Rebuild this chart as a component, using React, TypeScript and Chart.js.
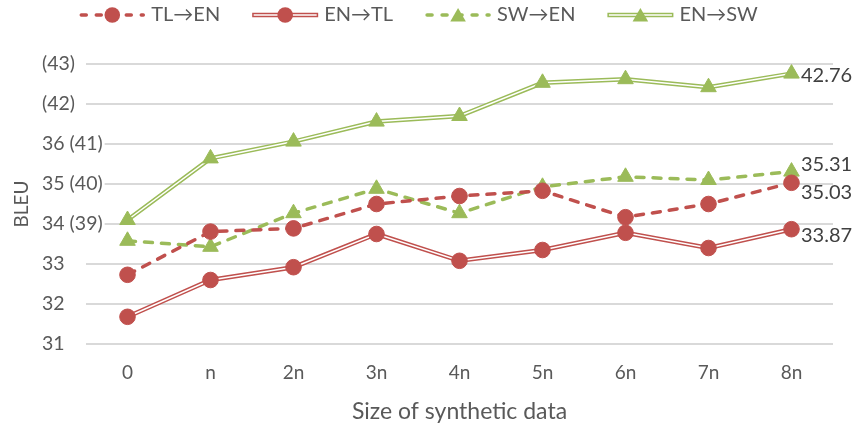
import React, { useEffect, useRef } from 'react';
import { Chart, registerables } from 'chart.js';

Chart.register(...registerables);

// ---------- data ----------
const categories = ['0', 'n', '2n', '3n', '4n', '5n', '6n', '7n', '8n'];
const seriesLabels = ['TL→EN', 'EN→TL', 'SW→EN', 'EN→SW'];
const tlEn = [32.73, 33.81, 33.89, 34.5, 34.7, 34.83, 34.17, 34.5, 35.03];
const enTl = [31.68, 32.6, 32.92, 33.75, 33.08, 33.35, 33.78, 33.4, 33.87];
const swEn = [33.58, 33.43, 34.27, 34.88, 34.27, 34.93, 35.18, 35.1, 35.31];
const enSw = [39.1, 40.64, 41.06, 41.56, 41.7, 42.53, 42.62, 42.42, 42.76];
const EN_SW_SHIFT = 5; // EN→SW is read on the bracketed scale
const yTickValues = [31, 32, 33, 34, 35, 36, 37, 38];
const yTickLabels = ['31', '32', '33', '34 (39)', '35 (40)', '36 (41)', '(42)', '(43)'];
const xTitle = 'Size of synthetic data';
const yTitle = 'BLEU';

// ---------- style ----------
const FONT = 'Lato, "Open Sans", sans-serif';
const RED = '#C0504D';
const GREEN = '#9BBB59';
const TEXT = '#595959';
const LABEL_TEXT = '#404040';
const DASH = [8, 9];

type SeriesStyle = {
  label: string;
  values: number[];
  shift: number;
  color: string;
  dashed: boolean;
  point: 'circle' | 'triangle';
  radius: number;
  labelDy: number;
  markerIndex?: number;
};

const seriesStyles: SeriesStyle[] = [
  { label: seriesLabels[0], values: tlEn, shift: 0, color: RED, dashed: true, point: 'circle', radius: 7.8, labelDy: 10 },
  { label: seriesLabels[1], values: enTl, shift: 0, color: RED, dashed: false, point: 'circle', radius: 7.8, labelDy: 6.5 },
  { label: seriesLabels[2], values: swEn, shift: 0, color: GREEN, dashed: true, point: 'triangle', radius: 9, labelDy: -7.5 },
  { label: seriesLabels[3], values: enSw, shift: EN_SW_SHIFT, color: GREEN, dashed: false, point: 'triangle', radius: 9, labelDy: 1.7 },
];

function buildDatasets() {
  const ds: any[] = [];
  seriesStyles.forEach((s) => {
    const data = s.values.map((v) => v - s.shift);
    const markerProps = {
      pointStyle: s.point,
      pointRadius: s.radius,
      pointBackgroundColor: s.color,
      pointBorderColor: s.color,
      pointBorderWidth: 1,
    };
    if (s.dashed) {
      s.markerIndex = ds.length;
      ds.push({
        label: s.label,
        data,
        borderColor: s.color,
        borderWidth: 3.5,
        borderDash: DASH,
        borderCapStyle: 'round',
        tension: 0,
        order: 1,
        ...markerProps,
      });
    } else {
      ds.push({ label: s.label + ' outer', data, borderColor: s.color, borderWidth: 4.5, pointRadius: 0, tension: 0, order: 6 });
      ds.push({ label: s.label + ' inner', data, borderColor: '#ffffff', borderWidth: 1.5, pointRadius: 0, tension: 0, order: 5 });
      s.markerIndex = ds.length;
      ds.push({ label: s.label, data, showLine: false, order: 0, ...markerProps });
    }
  });
  return ds;
}

function drawMarker(ctx: CanvasRenderingContext2D, kind: string, x: number, y: number, r: number, color: string) {
  ctx.save();
  ctx.fillStyle = color;
  ctx.beginPath();
  if (kind === 'circle') {
    ctx.arc(x, y, r, 0, Math.PI * 2);
  } else {
    let a = 0;
    ctx.moveTo(x + Math.sin(a) * r, y - Math.cos(a) * r);
    a += (2 * Math.PI) / 3;
    ctx.lineTo(x + Math.sin(a) * r, y - Math.cos(a) * r);
    a += (2 * Math.PI) / 3;
    ctx.lineTo(x + Math.sin(a) * r, y - Math.cos(a) * r);
    ctx.closePath();
  }
  ctx.fill();
  ctx.restore();
}

const LEG_CENTER_X = 418.5;
const LEG_Y = 15;
const LEG_SAMPLE = 66;
const LEG_GAP = 6;
const LEG_SPACING = 32;

const decorPlugin = {
  id: 'decor',
  afterDatasetsDraw(chart: any) {
    const ctx: CanvasRenderingContext2D = chart.ctx;
    ctx.save();
    ctx.font = `20px ${FONT}`;
    ctx.fillStyle = LABEL_TEXT;
    ctx.textAlign = 'left';
    ctx.textBaseline = 'middle';
    seriesStyles.forEach((s) => {
      const meta = chart.getDatasetMeta(s.markerIndex);
      const pt = meta.data[meta.data.length - 1];
      const v = s.values[s.values.length - 1];
      ctx.fillText(v.toFixed(2), pt.x + 9.5, pt.y + s.labelDy);
    });
    ctx.restore();
  },
  afterDraw(chart: any) {
    const ctx: CanvasRenderingContext2D = chart.ctx;
    const area = chart.chartArea;
    // y axis title
    ctx.save();
    ctx.font = `19px ${FONT}`;
    ctx.fillStyle = TEXT;
    ctx.textAlign = 'center';
    ctx.textBaseline = 'middle';
    ctx.translate(22, (area.top + area.bottom) / 2);
    ctx.rotate(-Math.PI / 2);
    ctx.fillText(yTitle, 0, 0);
    ctx.restore();

    // legend
    ctx.save();
    ctx.font = `20px ${FONT}`;
    const widths = seriesStyles.map((s) => ctx.measureText(s.label).width);
    const total =
      widths.reduce((a, w) => a + LEG_SAMPLE + LEG_GAP + w, 0) + LEG_SPACING * (seriesStyles.length - 1);
    let x = LEG_CENTER_X - total / 2;
    seriesStyles.forEach((s, i) => {
      const y = LEG_Y;
      if (s.dashed) {
        ctx.save();
        ctx.strokeStyle = s.color;
        ctx.lineWidth = 3.5;
        ctx.lineCap = 'round';
        ctx.setLineDash([5, 10]);
        ctx.beginPath();
        ctx.moveTo(x + 2, y);
        ctx.lineTo(x + LEG_SAMPLE - 2, y);
        ctx.stroke();
        ctx.restore();
      } else {
        ctx.save();
        ctx.strokeStyle = s.color;
        ctx.lineWidth = 4.5;
        ctx.beginPath();
        ctx.moveTo(x, y);
        ctx.lineTo(x + LEG_SAMPLE, y);
        ctx.stroke();
        ctx.strokeStyle = '#ffffff';
        ctx.lineWidth = 1.5;
        ctx.beginPath();
        ctx.moveTo(x + 1.5, y);
        ctx.lineTo(x + LEG_SAMPLE - 1.5, y);
        ctx.stroke();
        ctx.restore();
      }
      drawMarker(ctx, s.point, x + LEG_SAMPLE / 2, s.point === 'triangle' ? y + 2 : y, s.radius, s.color);
      ctx.fillStyle = TEXT;
      ctx.textAlign = 'left';
      ctx.textBaseline = 'middle';
      ctx.fillText(s.label, x + LEG_SAMPLE + LEG_GAP, y);
      x += LEG_SAMPLE + LEG_GAP + widths[i] + LEG_SPACING;
    });
    ctx.restore();
  },
};

export default function App() {
  const ref = useRef<HTMLCanvasElement | null>(null);
  useEffect(() => {
    if (!ref.current) return;
    const chart = new Chart(ref.current, {
      type: 'line',
      data: { labels: categories, datasets: buildDatasets() },
      options: {
        animation: false,
        responsive: false,
        events: [],
        layout: { padding: { left: 42, top: 64, right: 21, bottom: 0 } },
        plugins: { legend: { display: false }, tooltip: { enabled: false } },
        scales: {
          x: {
            type: 'category',
            offset: true,
            grid: { display: false, drawTicks: false },
            border: { display: false },
            ticks: { color: TEXT, font: { family: FONT, size: 19 }, padding: 17.5, maxRotation: 0 },
            title: {
              display: true,
              text: xTitle,
              color: TEXT,
              font: { family: FONT, size: 23, lineHeight: 1.2 },
              padding: { top: 0, bottom: 0 },
            },
            afterFit: (s: any) => {
              s.height = 81;
            },
          },
          y: {
            min: 31,
            max: 38,
            grid: { color: '#d9d9d9', lineWidth: 2, drawTicks: false },
            border: { display: false },
            afterBuildTicks: (s: any) => {
              s.ticks = yTickValues.map((v) => ({ value: v }));
            },
            ticks: {
              color: TEXT,
              font: { family: FONT, size: 19.5 },
              mirror: true,
              crossAlign: 'near',
              padding: -44,
              showLabelBackdrop: true,
              backdropColor: '#ffffff',
              backdropPadding: { top: 0, bottom: 0, left: 0, right: 2 },
              callback: (v: any) => {
                const i = yTickValues.indexOf(Number(v));
                return i >= 0 ? yTickLabels[i] : '';
              },
            },
            afterFit: (s: any) => {
              s.width = 44;
            },
          },
        },
      },
      plugins: [decorPlugin],
    });
    return () => chart.destroy();
  }, []);
  return (
    <div style={{ position: 'absolute', left: 0, top: 0, width: 854, height: 425, background: '#fff' }}>
      <canvas ref={ref} width={854} height={425} />
    </div>
  );
}
